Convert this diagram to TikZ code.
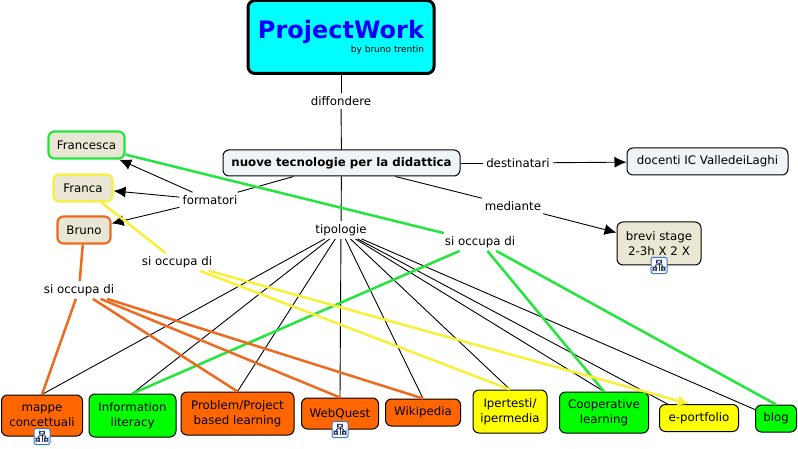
\documentclass[tikz,border=0pt]{standalone}
\usepackage{fontspec}
\setmainfont{DejaVu Sans}
\usetikzlibrary{arrows.meta}
\definecolor{titlecyan}{HTML}{00FFFF}
\definecolor{titleblue}{HTML}{0000FF}
\definecolor{topicorange}{HTML}{FF6600}
\definecolor{topicgreen}{HTML}{00FF00}
\definecolor{topicyellow}{HTML}{FFFF00}
\definecolor{linkorange}{HTML}{EE6A1F}
\definecolor{linkgreen}{HTML}{22E63C}
\definecolor{linkyellow}{HTML}{F8F038}
\definecolor{paleblue}{HTML}{EEF4F7}
\definecolor{beige}{HTML}{E9E7D4}
\definecolor{iconblue}{HTML}{3A78C8}
\definecolor{glyphblue}{HTML}{1C2F66}
\tikzset{concept/.style={draw=black, rounded corners=6pt, line width=1pt, align=center, inner sep=0pt, font=\fontsize{11.8}{15}\selectfont}}
\tikzset{link phrase/.style={fill=white, inner xsep=3pt, inner ysep=3pt, font=\fontsize{11.8}{13}\selectfont}}
\tikzset{person/.style={concept, fill=beige, line width=2.2pt}}
\tikzset{thin link/.style={draw=black, line width=0.9pt}}
\tikzset{filled tip/.style={-{Latex[length=12pt,width=11pt]}}}
\tikzset{map icon/.style={draw=iconblue, fill=white, rounded corners=2pt, line width=1pt, minimum size=16pt, inner sep=0pt}}
\newcommand{\hierglyph}{\tikz[x=1pt,y=-1pt,line width=0.9pt]{
  \draw[glyphblue] (-2.5,-5.5) rectangle (2.5,-2.5); \draw[glyphblue] (-6,1.5) rectangle (-2.5,4.5); \draw[glyphblue] (2.5,1.5) rectangle (6,4.5);
  \draw[glyphblue] (-4,1.5) -- (-4,-1) -- (4,-1) -- (4,1.5); \draw[glyphblue] (0,-2.5) -- (0,5);}}
\begin{document}
\begin{tikzpicture}[x=1pt,y=-1pt]
\useasboundingbox (0,0) rectangle (798,449);
% main title
\node[draw=black, fill=titlecyan, rounded corners=7pt, line width=3pt, minimum width=186pt, minimum height=73pt, align=right, inner sep=0pt] (title) at (341,37)
  {{\fontsize{24}{29}\selectfont\bfseries\color{titleblue}ProjectWork}\\[1pt]{\fontsize{9}{10}\selectfont by bruno trentin}};
% concepts
\node[concept, fill=paleblue, minimum width=237pt, minimum height=26pt] (nuove) at (341.5,163) {\bfseries nuove tecnologie per la didattica};
\node[concept, fill=paleblue, minimum width=161pt, minimum height=27pt] (docenti) at (707.5,161.5) {docenti IC ValledeiLaghi};
\node[concept, fill=beige, minimum width=84pt, minimum height=43pt] (stage) at (659,243.5) {brevi stage\\2-3h X 2 X};
\node[person, draw=linkgreen, minimum width=76pt, minimum height=27pt] (francesca) at (86.5,145) {Francesca};
\node[person, draw=linkyellow, minimum width=59pt, minimum height=27pt] (franca) at (83,188) {Franca};
\node[person, draw=linkorange, minimum width=53pt, minimum height=27pt] (bruno) at (84,230) {Bruno};
% link phrases
\node[link phrase] (diffondere) at (341,101) {diffondere};
\node[link phrase] (destinatari) at (518,163) {destinatari};
\node[link phrase] (mediante) at (513,206) {mediante};
\node[link phrase] (formatori) at (210,200) {formatori};
\node[link phrase] (tipologie) at (341,230) {tipologie};
\node[link phrase] (occupagreen) at (480,242) {si occupa di};
\node[link phrase] (occupayellow) at (177,262) {si occupa di};
\node[link phrase] (occupaorange) at (79,290) {si occupa di};
% bottom row
\node[concept, fill=topicorange, minimum width=81pt, minimum height=41pt] (mappe) at (42,415.5) {mappe\\concettuali};
\node[concept, fill=topicgreen, minimum width=87pt, minimum height=43pt] (information) at (132.5,415.5) {Information\\literacy};
\node[concept, fill=topicorange, minimum width=113pt, minimum height=43pt] (problem) at (237.5,413.5) {Problem/Project\\based learning};
\node[concept, fill=topicorange, minimum width=77pt, minimum height=31pt] (webquest) at (340,413.5) {WebQuest};
\node[concept, fill=topicorange, minimum width=75pt, minimum height=27pt] (wikipedia) at (423,412.5) {Wikipedia};
\node[concept, fill=topicyellow, minimum width=74pt, minimum height=43pt] (ipertesti) at (510,411.5) {Ipertesti/\\ipermedia};
\node[concept, fill=topicgreen, minimum width=89pt, minimum height=41pt] (cooperative) at (604,412.5) {Cooperative\\learning};
\node[concept, fill=topicyellow, minimum width=79pt, minimum height=27pt] (portfolio) at (699,418) {e-portfolio};
\node[concept, fill=topicgreen, minimum width=41pt, minimum height=27pt] (blog) at (776,418.5) {blog};
% icons
\node[map icon] (mappeicon) at (mappe.south) {\hierglyph};
\node[map icon] (webicon) at (webquest.south) {\hierglyph};
\node[map icon] (stageicon) at (stage.south) {\hierglyph};
% black links
\draw[thin link] (title) -- (diffondere);
\draw[thin link] (diffondere) -- (nuove);
\draw[thin link] (nuove) -- (destinatari);
\draw[thin link, filled tip] (destinatari) -- (docenti);
\draw[thin link] (nuove) -- (mediante);
\draw[thin link, filled tip] (mediante) -- (stage);
\draw[thin link] (nuove) -- (formatori);
\foreach \who in {francesca,franca,bruno}
  \draw[thin link, filled tip] (formatori) -- (\who);
\draw[thin link] (nuove) -- (tipologie);
\foreach \topic in {mappe,information,problem,webquest,wikipedia,ipertesti,cooperative}
  \draw[thin link] (tipologie) -- (\topic.north);
\draw[thin link] (tipologie) -- (portfolio.156);
\draw[thin link] (tipologie) -- (blog.157);
% coloured links
\draw[linkgreen, line width=2.5pt] (francesca) -- (occupagreen);
\foreach \topic in {information,cooperative,blog}
  \draw[linkgreen, line width=2.5pt] (occupagreen) -- (\topic.north);
\draw[linkyellow, line width=2.5pt] (franca) -- (occupayellow);
\draw[linkyellow, line width=2.5pt] (occupayellow) -- (ipertesti.north);
\draw[linkyellow, line width=2.5pt, filled tip] (occupayellow) -- (portfolio.124);
\draw[linkorange, line width=2.5pt] (bruno) -- (occupaorange);
\foreach \topic in {mappe,problem,webquest,wikipedia}
  \draw[linkorange, line width=2.5pt] (occupaorange) -- (\topic.north);
\end{tikzpicture}
\end{document}
